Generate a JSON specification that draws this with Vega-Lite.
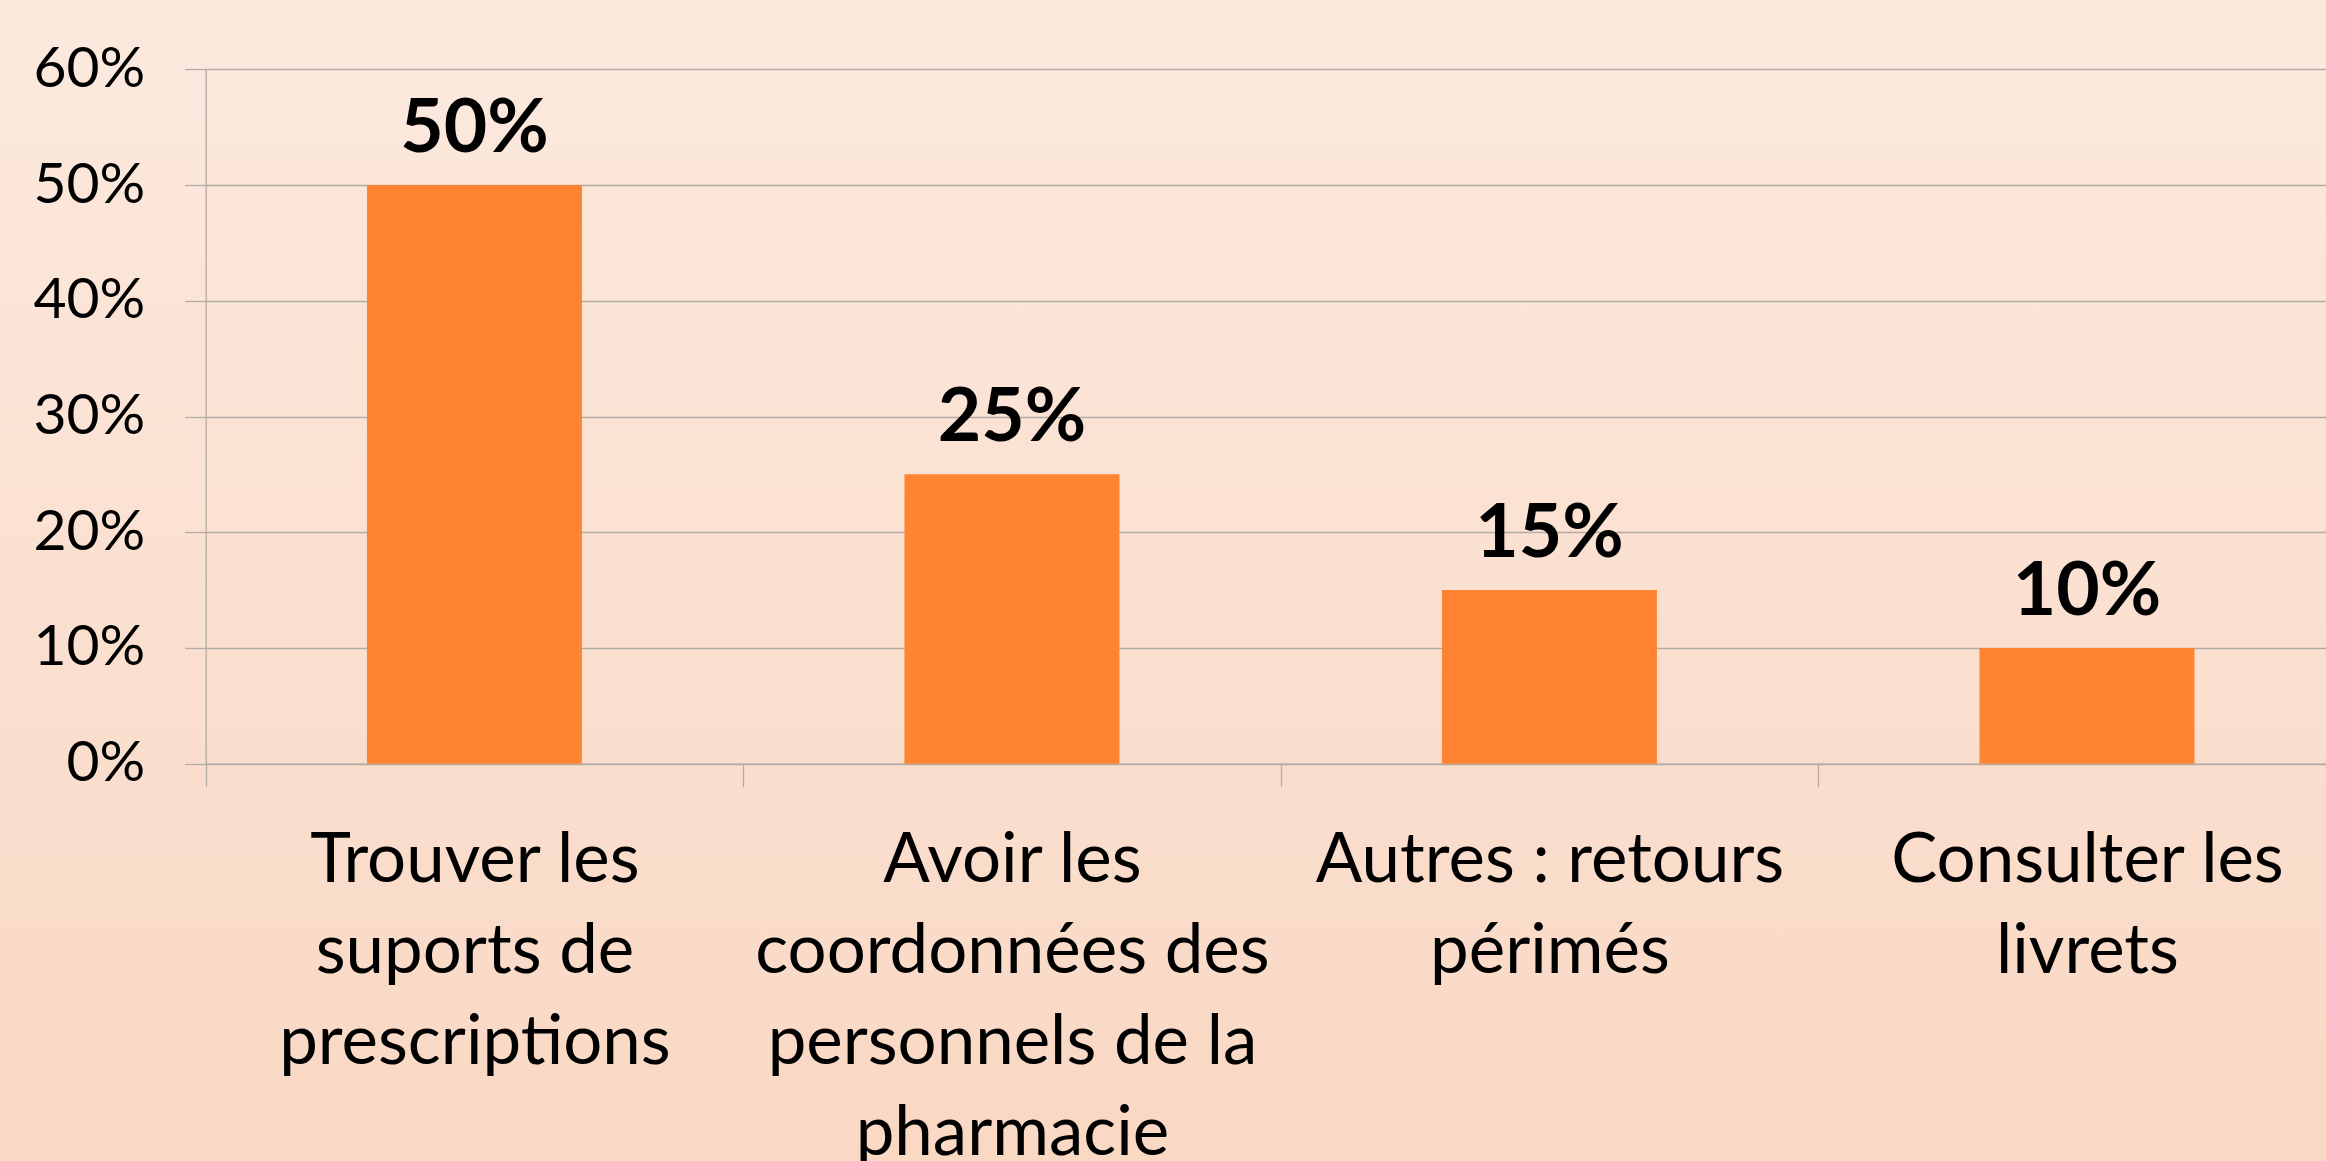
{
  "$schema": "https://vega.github.io/schema/vega-lite/v6.json",
  "width": 2326,
  "height": 1161,
  "autosize": {"type": "none"},
  "padding": 0,
  "background": "#fbe1d2",
  "view": {
    "stroke": null,
    "fill": {
      "gradient": "linear",
      "x1": 0, "y1": 0, "x2": 0, "y2": 1,
      "stops": [
        {"offset": 0, "color": "#fce9de"},
        {"offset": 1, "color": "#f9d8c4"}
      ]
    }
  },
  "data": {
    "values": [
      {"cat": "Trouver les\nsuports de\nprescriptions", "value": 0.5},
      {"cat": "Avoir les\ncoordonnées des\npersonnels de la\npharmacie", "value": 0.25},
      {"cat": "Autres : retours\npérimés", "value": 0.15},
      {"cat": "Consulter les\nlivrets", "value": 0.1}
    ]
  },
  "encoding": {
    "x": {
      "field": "cat",
      "type": "nominal",
      "sort": null,
      "scale": {"range": [205.7, 2355.7], "paddingInner": 0, "paddingOuter": 0},
      "axis": {
        "title": null,
        "orient": "bottom",
        "offset": -397.3,
        "labelAngle": 0,
        "labelExpr": "split(datum.label, '\\n')",
        "labelFont": "Lato",
        "labelFontSize": 69,
        "labelColor": "#000000",
        "labelLineHeight": 91,
        "labelBaseline": "alphabetic",
        "labelPadding": 95,
        "labelLimit": 0,
        "labelOverlap": false,
        "tickBand": "extent",
        "tickSize": 23,
        "tickWidth": 1.3,
        "tickColor": "#b3aba5",
        "domainColor": "#b3aba5",
        "domainWidth": 1.3,
        "grid": false
      }
    },
    "y": {
      "field": "value",
      "type": "quantitative",
      "scale": {"domain": [0, 0.6], "range": [763.7, 69.3], "nice": false},
      "axis": {
        "title": null,
        "offset": -205.7,
        "values": [0, 0.1, 0.2, 0.3, 0.4, 0.5, 0.6],
        "format": ".0%",
        "labelFont": "Lato",
        "labelFontSize": 57,
        "labelColor": "#000000",
        "labelPadding": 40,
        "tickSize": 21,
        "tickWidth": 1.3,
        "tickColor": "#b3aba5",
        "domainColor": "#b3aba5",
        "domainWidth": 1.3,
        "grid": true,
        "gridColor": "#b3aba5",
        "gridWidth": 1.3,
        "gridOpacity": 1
      }
    }
  },
  "layer": [
    {"mark": {"type": "bar", "color": "#ff8431", "width": {"band": 0.4}}},
    {
      "mark": {"type": "text", "font": "Lato", "fontWeight": "bold", "fontSize": 75, "baseline": "alphabetic", "dy": -33, "color": "#000000"},
      "encoding": {"text": {"field": "value", "type": "quantitative", "format": ".0%"}}
    }
  ]
}
